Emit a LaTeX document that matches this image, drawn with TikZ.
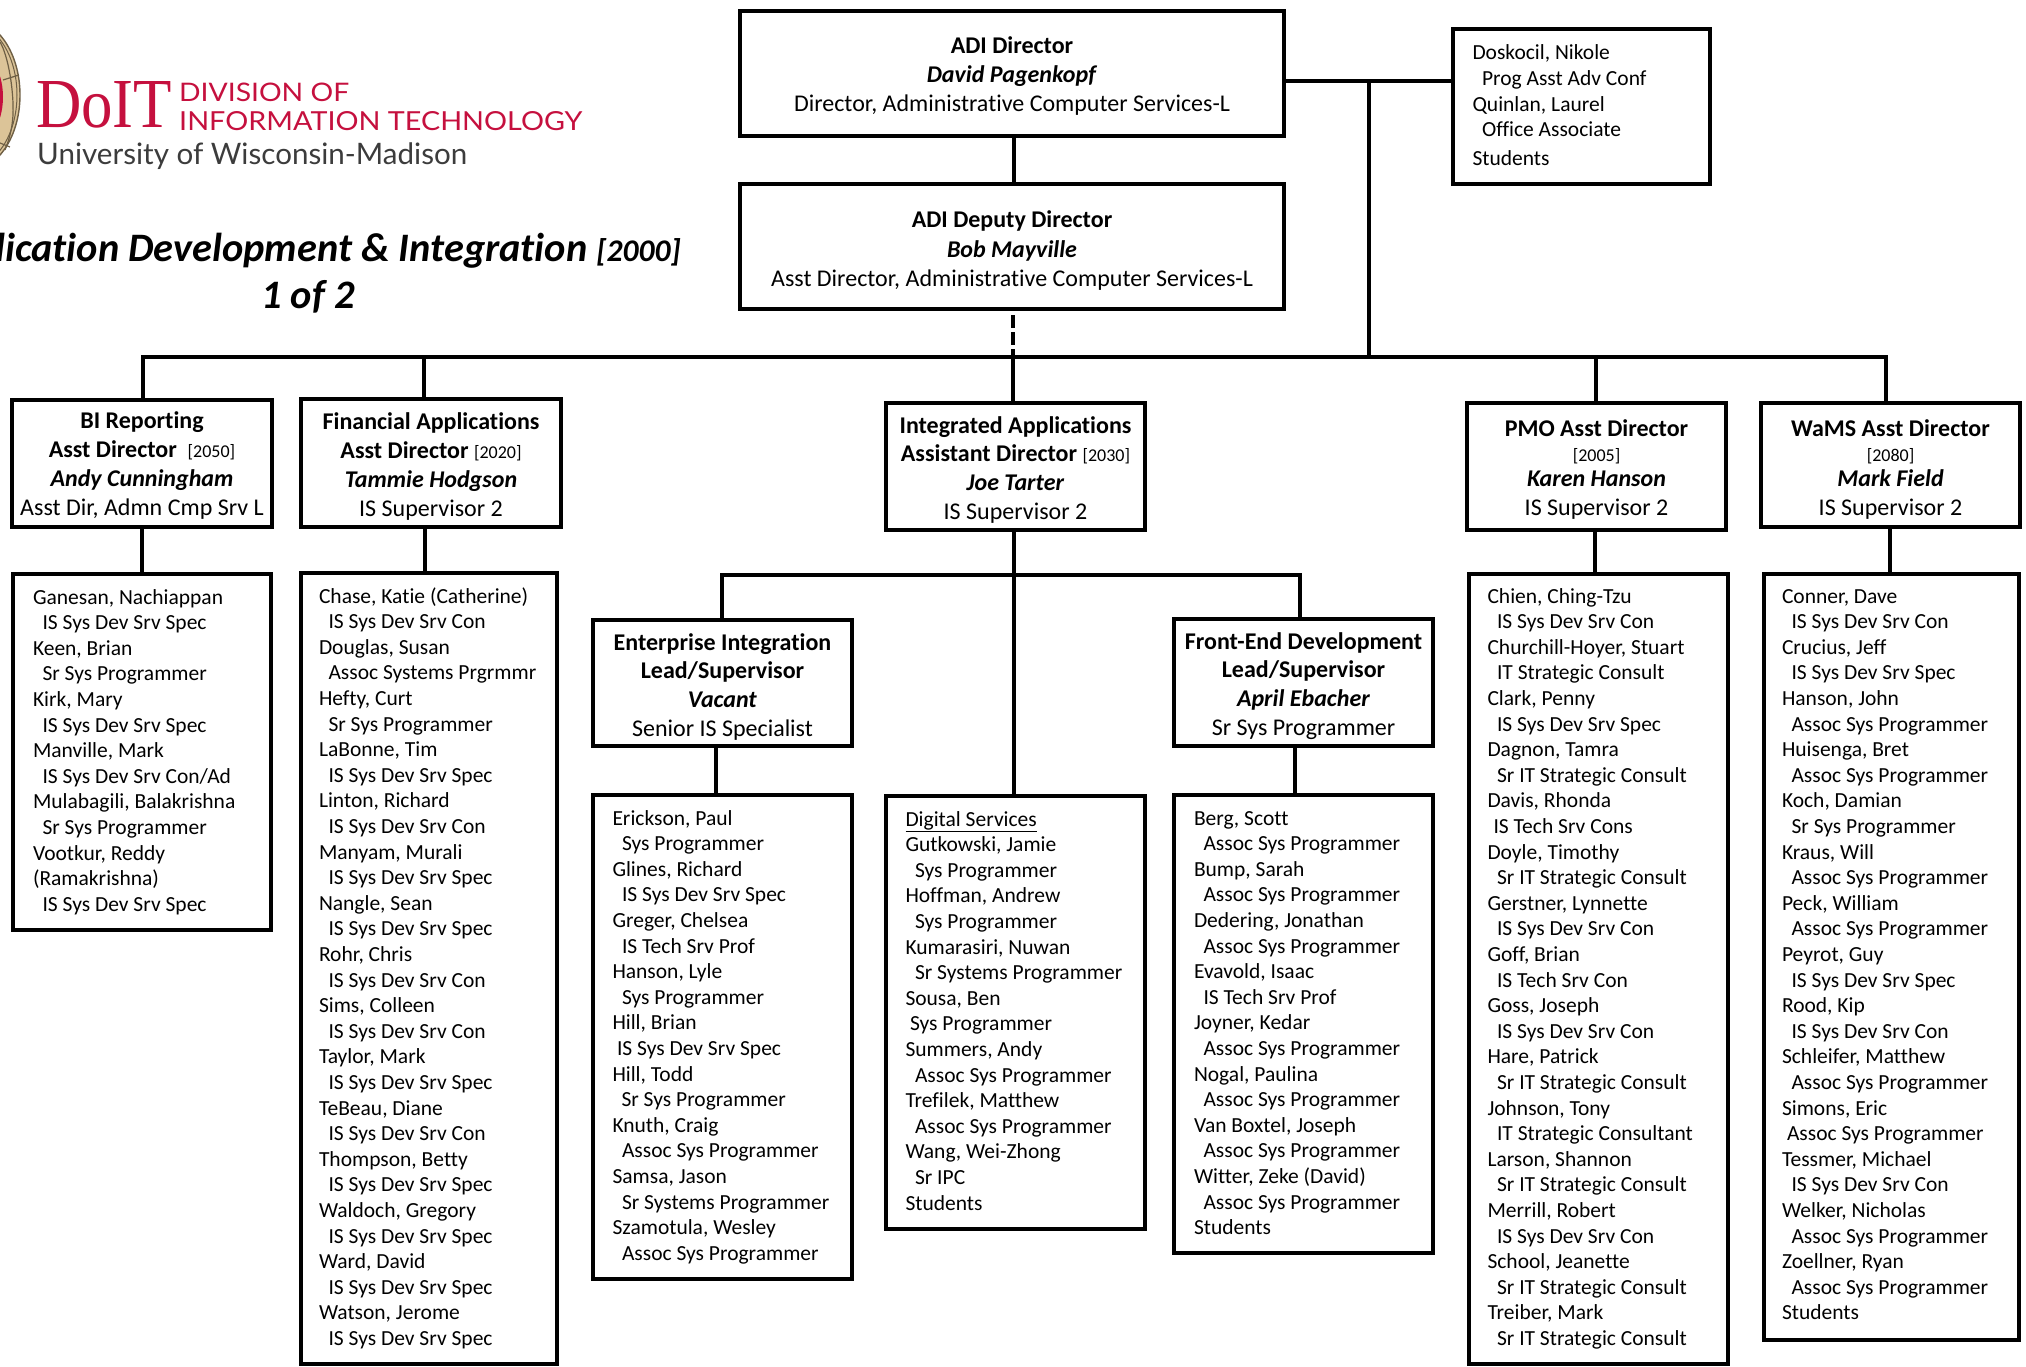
\documentclass[tikz,border=0pt]{standalone}
\usepackage{fontspec}
\setmainfont[Ligatures=NoCommon]{Carlito}
\newfontfamily\logoserif{Liberation Serif}
\newfontfamily\logosans{Lato}
\usetikzlibrary{calc}
\definecolor{doit}{HTML}{C5103E}
\definecolor{doitgrey}{HTML}{3C3C3C}
\definecolor{seal}{HTML}{DCC498}
\definecolor{sealline}{HTML}{6E5F45}
\tikzset{
  orgbox/.style={draw=black,fill=white,line width=#1,inner sep=0pt,outer sep=0pt,anchor=north west,text=black},
  orgbox/.default=4.5pt,
  link/.style={draw=black,line width=4pt},
  logotext/.style={anchor=base west,inner sep=0pt},
}
% \ob{name}{x0}{y0}{x1}{y1}{border}{text}
\newcommand{\ob}[7]{%
  \pgfmathsetmacro{\obw}{#4-#2}\pgfmathsetmacro{\obh}{#5-#3}%
  \node[orgbox=#6] (#1) at (#2,#3) {\parbox[c][\obh pt][t]{\obw pt}{#7}};}
\newcommand{\obset}[3]{\fontsize{#1}{#2}\selectfont\lineskiplimit=-100pt\rule{0pt}{\dimexpr#3+1pt\relax}\ignorespaces}
\newcommand{\hd}[3]{\centering\obset{#1}{#2}{#3}}
\newcommand{\sm}[1]{{\fontsize{18}{\baselineskip}\selectfont #1}}
\newcommand{\ls}[1]{\leftskip=#1pt\rightskip=0pt plus 1fil\relax}
\newcommand{\jj}{\hspace*{9.5pt}}
\begin{document}
\begin{tikzpicture}[x=1pt,y=-1pt]
\useasboundingbox (0,0) rectangle (2026,1367);
\begin{scope}
\clip (0,0) rectangle (2026,1367);
% seal
\fill[seal] (-30,95) ellipse (50 and 75);
\draw[sealline,line width=1.4pt] (-30,95) ellipse (50 and 75);
\draw[sealline,line width=1pt] (-30,95) ellipse (47 and 72);
\fill[doit] (-30,97) ellipse (33 and 50);
\draw[sealline,line width=1.2pt] (0,42) .. controls (8,55) and (14,90) .. (13,115) .. controls (12,132) and (8,142) .. (5,150);
\draw[sealline,line width=1.2pt] (3,80) -- (19,75) (0,143) -- (10,147);
% logo
\node[logotext,text=doit,font=\logoserif] (doit) at (36,128) {\resizebox{136pt}{46pt}{DoIT}};
\node[logotext,text=doit,font=\logosans] (div1) at (179,102) {\resizebox{170pt}{18.5pt}{DIVISION OF}};
\node[logotext,text=doit,font=\logosans] (div2) at (179,131) {\resizebox{403pt}{19pt}{INFORMATION TECHNOLOGY}};
\node[logotext,text=doitgrey,font=\logosans\fontsize{30}{30}\selectfont] (uw) at (37,165) {\resizebox{430pt}{!}{University of Wisconsin-Madison}};
% title
\node[anchor=base east,inner sep=0pt,font=\bfseries\itshape\fontsize{40.4}{40}\selectfont] (title) at (681,261) {Application Development \& Integration {\fontsize{31.5}{32}\selectfont [2000]}};
\node[anchor=base,inner sep=0pt,font=\bfseries\itshape\fontsize{40.4}{40}\selectfont] (page) at (308,308) {1 of 2};
% connector junctions
\coordinate (busL) at (143,357);
\coordinate (busR) at (1886,357);
\coordinate (busSide) at (1369,357);
\coordinate (busMid) at (1013,357);
\coordinate (busFin) at (424,357);
\coordinate (busPMO) at (1596,357);
\coordinate (subL) at (722,575);
\coordinate (subR) at (1300,575);
\coordinate (subMid) at (1014,575);
\coordinate (sideT) at (1369,81);
% boxes
\ob{dir}{740}{11}{1284}{136}{4.5pt}{\hd{24}{29}{42pt}\textbf{ADI Director}\\\textbf{\textit{David Pagenkopf}}\\Director, Administrative Computer Services-L}
\ob{dep}{740}{184}{1284}{309}{4.5pt}{\hd{24}{29}{43pt}\textbf{ADI Deputy Director}\\\textbf{\textit{Bob Mayville}}\\Asst Director, Administrative Computer Services-L}
\ob{side}{1453}{29}{1710}{184}{4pt}{\ls{19.5}\obset{21.5}{25.6}{30pt}Doskocil, Nikole\\\jj Prog Asst Adv Conf\\Quinlan, Laurel\\\jj Office Associate\\[3pt]Students}
\ob{bi}{12}{400}{272}{527}{4.5pt}{\hd{24}{29}{27pt}\textbf{BI Reporting}\\\textbf{Asst Director}\ \ \sm{[2050]}\\\textbf{\textit{Andy Cunningham}}\\Asst Dir, Admn Cmp Srv L}
\ob{fin}{301}{399}{561}{527}{4.5pt}{\hd{24}{29}{29pt}\textbf{Financial Applications}\\\textbf{Asst Director} \sm{[2020]}\\\textbf{\textit{Tammie Hodgson}}\\IS Supervisor 2}
\ob{int}{886}{403}{1145}{530}{4.5pt}{\hd{24}{28.7}{29pt}\textbf{Integrated Applications}\\\textbf{Assistant Director} \sm{[2030]}\\\textbf{\textit{Joe Tarter}}\\IS Supervisor 2}
\ob{pmo}{1467}{403}{1726}{530}{4.5pt}{\hd{24}{25}{32pt}\textbf{PMO Asst Director}\\\sm{[2005]}\\\textbf{\textit{Karen Hanson}}\\[4.5pt]IS Supervisor 2}
\ob{wams}{1761}{403}{2020}{527}{4.5pt}{\hd{24}{25}{32pt}\textbf{WaMS Asst Director}\\\sm{[2080]}\\\textbf{\textit{Mark Field}}\\[4.5pt]IS Supervisor 2}
\ob{ei}{593}{620}{852}{746}{4.5pt}{\hd{24}{28.7}{29pt}\textbf{Enterprise Integration}\\\textbf{Lead/Supervisor}\\\textbf{\textit{Vacant}}\\Senior IS Specialist}
\ob{fe}{1174}{619}{1433}{746}{4.5pt}{\hd{24}{28.7}{29pt}\textbf{Front-End Development}\\\textbf{Lead/Supervisor}\\\textbf{\textit{April Ebacher}}\\Sr Sys Programmer}
% lists
\ob{bil}{13}{574}{271}{930}{4pt}{\ls{20}\obset{21.5}{25.6}{29pt}Ganesan, Nachiappan\\\jj IS Sys Dev Srv Spec\\Keen, Brian\\\jj Sr Sys Programmer\\Kirk, Mary\\\jj IS Sys Dev Srv Spec\\Manville, Mark\\\jj IS Sys Dev Srv Con/Ad\\Mulabagili, Balakrishna\\\jj Sr Sys Programmer\\Vootkur, Reddy\\(Ramakrishna)\\\jj IS Sys Dev Srv Spec}
\ob{finl}{301}{573}{557}{1364}{4pt}{\ls{18}\obset{21.5}{25.6}{29pt}Chase, Katie (Catherine)\\\jj IS Sys Dev Srv Con\\Douglas, Susan\\\jj Assoc Systems Prgrmmr\\Hefty, Curt\\\jj Sr Sys Programmer\\LaBonne, Tim\\\jj IS Sys Dev Srv Spec\\Linton, Richard\\\jj IS Sys Dev Srv Con\\Manyam, Murali\\\jj IS Sys Dev Srv Spec\\Nangle, Sean\\\jj IS Sys Dev Srv Spec\\Rohr, Chris\\\jj IS Sys Dev Srv Con\\Sims, Colleen\\\jj IS Sys Dev Srv Con\\Taylor, Mark\\\jj IS Sys Dev Srv Spec\\TeBeau, Diane\\\jj IS Sys Dev Srv Con\\Thompson, Betty\\\jj IS Sys Dev Srv Spec\\Waldoch, Gregory\\\jj IS Sys Dev Srv Spec\\Ward, David\\\jj IS Sys Dev Srv Spec\\Watson, Jerome\\\jj IS Sys Dev Srv Spec}
\ob{eil}{593}{795}{852}{1279}{4pt}{\ls{19.5}\obset{21.5}{25.6}{29pt}Erickson, Paul\\\jj Sys Programmer\\Glines, Richard\\\jj IS Sys Dev Srv Spec\\Greger, Chelsea\\\jj IS Tech Srv Prof\\Hanson, Lyle\\\jj Sys Programmer\\Hill, Brian\\\hspace*{4.5pt}IS Sys Dev Srv Spec\\Hill, Todd\\\hspace*{9pt}Sr Sys Programmer\\Knuth, Craig\\\jj Assoc Sys Programmer\\Samsa, Jason\\\jj Sr Systems Programmer\\Szamotula, Wesley\\\jj Assoc Sys Programmer}
\ob{dig}{886}{796}{1145}{1229}{4pt}{\ls{19.5}\obset{21.5}{25.6}{29pt}\underline{Digital Services}\\Gutkowski, Jamie\\\jj Sys Programmer\\Hoffman, Andrew\\\jj Sys Programmer\\Kumarasiri, Nuwan\\\jj Sr Systems Programmer\\Sousa, Ben\\\hspace*{4.5pt}Sys Programmer\\Summers, Andy\\\jj Assoc Sys Programmer\\Trefilek, Matthew\\\jj Assoc Sys Programmer\\Wang, Wei-Zhong\\\jj Sr IPC\\Students}
\ob{fel}{1174}{795}{1433}{1253}{4pt}{\ls{20}\obset{21.5}{25.6}{29pt}Berg, Scott\\\jj Assoc Sys Programmer\\Bump, Sarah\\\jj Assoc Sys Programmer\\Dedering, Jonathan\\\jj Assoc Sys Programmer\\Evavold, Isaac\\\jj IS Tech Srv Prof\\Joyner, Kedar\\\jj Assoc Sys Programmer\\Nogal, Paulina\\\jj Assoc Sys Programmer\\Van Boxtel, Joseph\\\jj Assoc Sys Programmer\\Witter, Zeke (David)\\\jj Assoc Sys Programmer\\Students}
\ob{pmol}{1469}{574}{1728}{1364}{4pt}{\ls{18.5}\obset{21.5}{25.6}{28pt}Chien, Ching-Tzu\\\jj IS Sys Dev Srv Con\\Churchill-Hoyer, Stuart\\\jj IT Strategic Consult\\Clark, Penny\\\jj IS Sys Dev Srv Spec\\Dagnon, Tamra\\\jj Sr IT Strategic Consult\\Davis, Rhonda\\\hspace*{6pt}IS Tech Srv Cons\\Doyle, Timothy\\\jj Sr IT Strategic Consult\\Gerstner, Lynnette\\\jj IS Sys Dev Srv Con\\Goff, Brian\\\jj IS Tech Srv Con\\Goss, Joseph\\\jj IS Sys Dev Srv Con\\Hare, Patrick\\\jj Sr IT Strategic Consult\\Johnson, Tony\\\jj IT Strategic Consultant\\Larson, Shannon\\\jj Sr IT Strategic Consult\\Merrill, Robert\\\jj IS Sys Dev Srv Con\\School, Jeanette\\\jj Sr IT Strategic Consult\\Treiber, Mark\\\jj Sr IT Strategic Consult}
\ob{wamsl}{1764}{574}{2019}{1340}{4pt}{\ls{18}\obset{21.5}{25.6}{28pt}Conner, Dave\\\jj IS Sys Dev Srv Con\\Crucius, Jeff\\\jj IS Sys Dev Srv Spec\\Hanson, John\\\jj Assoc Sys Programmer\\Huisenga, Bret\\\jj Assoc Sys Programmer\\Koch, Damian\\\jj Sr Sys Programmer\\Kraus, Will\\\jj Assoc Sys Programmer\\Peck, William\\\jj Assoc Sys Programmer\\Peyrot, Guy\\\jj IS Sys Dev Srv Spec\\Rood, Kip\\\jj IS Sys Dev Srv Con\\Schleifer, Matthew\\\jj Assoc Sys Programmer\\Simons, Eric\\\hspace*{5pt}Assoc Sys Programmer\\Tessmer, Michael\\\jj IS Sys Dev Srv Con\\Welker, Nicholas\\\jj Assoc Sys Programmer\\Zoellner, Ryan\\\jj Assoc Sys Programmer\\Students}
% connectors
\draw[link] (dir.south -| 1014,0) -- (dep.north -| 1014,0);
\draw[link] (sideT -| dir.east) -- (sideT -| side.west);
\draw[link] (sideT) -- (busSide);
\draw[link,dash pattern=on 13pt off 4pt] ($(dep.south -| busMid)+(0,6)$) -- (busMid);
\draw[link,line cap=rect] (busL) -- (busR);
\draw[link] (busL) -- (busL |- bi.north);
\draw[link] (busFin) -- (busFin |- fin.north);
\draw[link] (busMid) -- (busMid |- int.north);
\draw[link] (busPMO) -- (busPMO |- pmo.north);
\draw[link] (busR) -- (busR |- wams.north);
\draw[link] (bi.south -| 142,0) -- (bil.north -| 142,0);
\draw[link] (fin.south -| 425,0) -- (finl.north -| 425,0);
\draw[link] (int.south -| subMid) -- (dig.north -| subMid);
\draw[link,line cap=rect] (subL) -- (subR);
\draw[link] (subL) -- (subL |- ei.north);
\draw[link] (subR) -- (subR |- fe.north);
\draw[link] (ei.south -| 716,0) -- (eil.north -| 716,0);
\draw[link] (fe.south -| 1295,0) -- (fel.north -| 1295,0);
\draw[link] (pmo.south -| 1595,0) -- (pmol.north -| 1595,0);
\draw[link] (wams.south -| 1890,0) -- (wamsl.north -| 1890,0);
\end{scope}
\end{tikzpicture}
\end{document}
